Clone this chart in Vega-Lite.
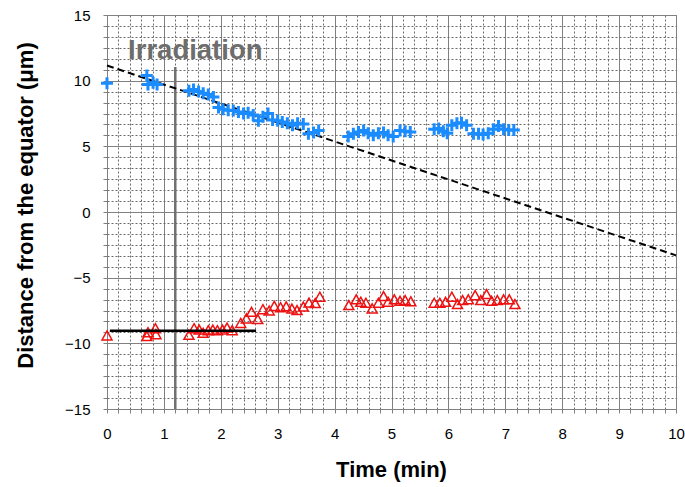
{
  "$schema": "https://vega.github.io/schema/vega-lite/v6.json",
  "width": 569,
  "height": 394,
  "autosize": "none",
  "padding": {"left": 107, "top": 15, "right": 9, "bottom": 78},
  "background": "white",
  "config": {
    "view": {"stroke": "#808080", "strokeWidth": 1},
    "font": "Liberation Sans"
  },
  "datasets": {
    "blue": [
      {"t": 0, "v": 9.8}, {"t": 0.7, "v": 10.4}, {"t": 0.72, "v": 9.7}, {"t": 0.81, "v": 9.85}, {"t": 0.88, "v": 9.7},
      {"t": 1.44, "v": 9.24}, {"t": 1.52, "v": 9.32}, {"t": 1.61, "v": 9.18}, {"t": 1.69, "v": 9.05}, {"t": 1.78, "v": 8.95},
      {"t": 1.87, "v": 8.75}, {"t": 1.96, "v": 7.95}, {"t": 2.04, "v": 7.82}, {"t": 2.13, "v": 7.75}, {"t": 2.22, "v": 7.72},
      {"t": 2.31, "v": 7.62}, {"t": 2.4, "v": 7.5}, {"t": 2.48, "v": 7.55}, {"t": 2.57, "v": 7.38}, {"t": 2.66, "v": 6.95},
      {"t": 2.74, "v": 7.25}, {"t": 2.83, "v": 7.5}, {"t": 2.91, "v": 7.0}, {"t": 3.0, "v": 6.95}, {"t": 3.08, "v": 6.85},
      {"t": 3.17, "v": 6.75}, {"t": 3.26, "v": 6.6}, {"t": 3.35, "v": 6.75}, {"t": 3.45, "v": 6.7}, {"t": 3.54, "v": 5.95},
      {"t": 3.63, "v": 6.05}, {"t": 3.72, "v": 6.2},
      {"t": 4.24, "v": 5.75}, {"t": 4.33, "v": 5.95}, {"t": 4.42, "v": 6.1}, {"t": 4.51, "v": 6.2}, {"t": 4.59, "v": 6.0},
      {"t": 4.68, "v": 5.85}, {"t": 4.77, "v": 6.0}, {"t": 4.86, "v": 6.05}, {"t": 4.94, "v": 5.85}, {"t": 5.03, "v": 5.75},
      {"t": 5.15, "v": 6.2}, {"t": 5.24, "v": 6.15}, {"t": 5.33, "v": 6.1},
      {"t": 5.75, "v": 6.3}, {"t": 5.83, "v": 6.35}, {"t": 5.91, "v": 6.15}, {"t": 5.98, "v": 6.0}, {"t": 6.06, "v": 6.6},
      {"t": 6.15, "v": 6.75}, {"t": 6.23, "v": 6.8}, {"t": 6.32, "v": 6.6}, {"t": 6.44, "v": 5.95}, {"t": 6.53, "v": 5.95},
      {"t": 6.61, "v": 5.9}, {"t": 6.7, "v": 6.0}, {"t": 6.79, "v": 6.3}, {"t": 6.88, "v": 6.55}, {"t": 6.97, "v": 6.3},
      {"t": 7.06, "v": 6.25}, {"t": 7.15, "v": 6.25}
    ],
    "red": [
      {"t": 0, "v": -9.4}, {"t": 0.7, "v": -9.45}, {"t": 0.72, "v": -9.15}, {"t": 0.85, "v": -8.85}, {"t": 0.86, "v": -9.3},
      {"t": 1.44, "v": -9.35}, {"t": 1.53, "v": -8.85}, {"t": 1.62, "v": -8.95}, {"t": 1.69, "v": -9.2}, {"t": 1.78, "v": -9.0},
      {"t": 1.86, "v": -8.95}, {"t": 1.94, "v": -9.0}, {"t": 2.03, "v": -8.95}, {"t": 2.11, "v": -8.8}, {"t": 2.2, "v": -9.0},
      {"t": 2.35, "v": -8.45}, {"t": 2.45, "v": -8.1}, {"t": 2.54, "v": -7.6}, {"t": 2.65, "v": -8.15}, {"t": 2.74, "v": -7.4},
      {"t": 2.85, "v": -7.5}, {"t": 2.94, "v": -7.15}, {"t": 3.05, "v": -7.25}, {"t": 3.15, "v": -7.18}, {"t": 3.25, "v": -7.35},
      {"t": 3.34, "v": -7.47}, {"t": 3.45, "v": -7.2}, {"t": 3.55, "v": -6.9}, {"t": 3.66, "v": -6.93}, {"t": 3.74, "v": -6.45},
      {"t": 4.25, "v": -7.09}, {"t": 4.38, "v": -6.65}, {"t": 4.46, "v": -6.83}, {"t": 4.55, "v": -6.91}, {"t": 4.66, "v": -7.34},
      {"t": 4.77, "v": -6.91}, {"t": 4.86, "v": -6.4}, {"t": 4.94, "v": -6.83}, {"t": 5.05, "v": -6.65}, {"t": 5.15, "v": -6.76},
      {"t": 5.24, "v": -6.71}, {"t": 5.34, "v": -6.8},
      {"t": 5.75, "v": -6.91}, {"t": 5.85, "v": -6.91}, {"t": 5.95, "v": -6.84}, {"t": 6.06, "v": -6.45}, {"t": 6.16, "v": -7.01},
      {"t": 6.25, "v": -6.71}, {"t": 6.35, "v": -6.65}, {"t": 6.47, "v": -6.33}, {"t": 6.57, "v": -6.71}, {"t": 6.67, "v": -6.25},
      {"t": 6.76, "v": -6.76}, {"t": 6.86, "v": -6.71}, {"t": 6.97, "v": -6.65}, {"t": 7.07, "v": -6.65}, {"t": 7.17, "v": -7.01}
    ],
    "trend": [{"t": 0, "v": 11.15}, {"t": 10, "v": -3.3}],
    "base": [{"t": 0.05, "v": -9.05}, {"t": 2.62, "v": -9.05}],
    "irr": [{"t": 1.2, "v": 11.05, "v2": -15}],
    "note": [{"t": 0.37, "v": 11.63, "label": "Irradiation"}]
  },
  "encoding": {
    "x": {
      "field": "t",
      "type": "quantitative",
      "scale": {"domain": [0, 10], "nice": false, "zero": false},
      "axis": {
        "values": [0, 0.2, 0.4, 0.6, 0.8, 1, 1.2, 1.4, 1.6, 1.8, 2, 2.2, 2.4, 2.6, 2.8, 3, 3.2, 3.4, 3.6, 3.8, 4, 4.2, 4.4, 4.6, 4.8, 5, 5.2, 5.4, 5.6, 5.8, 6, 6.2, 6.4, 6.6, 6.8, 7, 7.2, 7.4, 7.6, 7.8, 8, 8.2, 8.4, 8.6, 8.8, 9, 9.2, 9.4, 9.6, 9.8, 10],
        "tickCount": 1000,
        "labelExpr": "datum.value % 1 === 0 ? format(datum.value, 'd') : ''",
        "grid": true,
        "gridColor": {"condition": {"test": "datum.value % 1 === 0", "value": "#808080"}, "value": "#6a6a6a"},
        "gridDash": {"condition": {"test": "datum.value % 1 === 0", "value": []}, "value": [2, 2]},
        "gridWidth": 1,
        "domain": false,
        "ticks": true,
        "tickColor": "#808080",
        "tickSize": 4,
        "labelPadding": 13,
        "labelFont": "Liberation Sans",
        "labelFontSize": 15,
        "labelColor": "black",
        "labelFlush": false,
        "labelOverlap": false,
        "title": "Time (min)",
        "titleFont": "Liberation Sans",
        "titleFontSize": 22,
        "titleFontWeight": "bold",
        "titleColor": "black",
        "titleBaseline": "alphabetic",
        "titleX": 284,
        "titleY": 67
      }
    },
    "y": {
      "field": "v",
      "type": "quantitative",
      "scale": {"domain": [-15, 15], "nice": false, "zero": false},
      "axis": {
        "values": [-15, -14.1667, -13.3333, -12.5, -11.6667, -10.8333, -10, -9.1667, -8.3333, -7.5, -6.6667, -5.8333, -5, -4.1667, -3.3333, -2.5, -1.6667, -0.8333, 0, 0.8333, 1.6667, 2.5, 3.3333, 4.1667, 5, 5.8333, 6.6667, 7.5, 8.3333, 9.1667, 10, 10.8333, 11.6667, 12.5, 13.3333, 14.1667, 15],
        "tickCount": 1000,
        "labelExpr": "datum.value % 5 === 0 ? format(datum.value, 'd') : ''",
        "grid": true,
        "gridColor": {"condition": {"test": "datum.value % 5 === 0", "value": "#808080"}, "value": "#6a6a6a"},
        "gridDash": {"condition": {"test": "datum.value % 5 === 0", "value": []}, "value": [2, 2]},
        "gridWidth": 1,
        "domain": false,
        "ticks": true,
        "tickColor": "#808080",
        "tickSize": 4,
        "labelPadding": 13,
        "labelFont": "Liberation Sans",
        "labelFontSize": 15,
        "labelColor": "black",
        "labelFlush": false,
        "labelOverlap": false,
        "title": "Distance from the equator (μm)",
        "titleFont": "Liberation Sans",
        "titleFontSize": 22,
        "titleFontWeight": "bold",
        "titleColor": "black",
        "titleBaseline": "alphabetic",
        "titleX": -75,
        "titleY": 190
      }
    }
  },
  "layer": [
    {
      "data": {"name": "irr"},
      "mark": {"type": "rule", "color": "#707070", "strokeWidth": 2.5},
      "encoding": {"y2": {"field": "v2"}}
    },
    {
      "data": {"name": "trend"},
      "mark": {"type": "line", "color": "black", "strokeWidth": 2, "strokeDash": [7, 4]},
      "encoding": {}
    },
    {
      "data": {"name": "blue"},
      "mark": {"type": "point", "shape": "M-1,0H1M0,-1V1", "filled": false, "stroke": "#1a8cff", "strokeWidth": 3, "size": 144, "opacity": 1},
      "encoding": {}
    },
    {
      "data": {"name": "red"},
      "mark": {"type": "point", "shape": "M0,-0.9L1,0.9L-1,0.9Z", "filled": false, "stroke": "#ee1111", "strokeWidth": 1.5, "size": 100, "opacity": 1},
      "encoding": {}
    },
    {
      "data": {"name": "base"},
      "mark": {"type": "line", "color": "black", "strokeWidth": 2.5},
      "encoding": {}
    },
    {
      "data": {"name": "note"},
      "mark": {"type": "text", "align": "left", "baseline": "alphabetic", "font": "Liberation Sans", "fontSize": 27.5, "fontWeight": "bold", "color": "#6d6d6d"},
      "encoding": {"text": {"field": "label"}}
    }
  ]
}
